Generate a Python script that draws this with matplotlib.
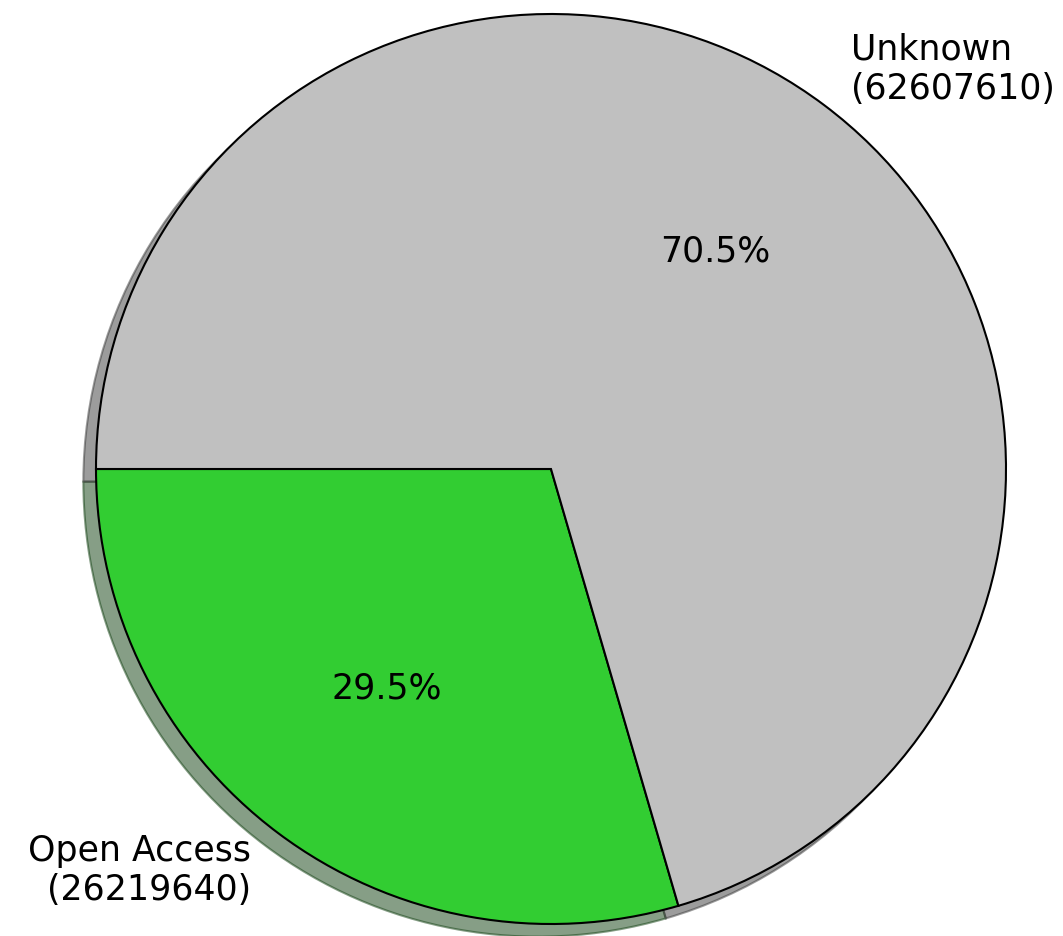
import matplotlib
matplotlib.use('Agg')
import matplotlib.pyplot as plt

categories = ['Open Access', 'Unknown']
counts = [26219640, 62607610]
colors = ['limegreen', 'silver']

labels = [f'{c}\n({n})' for c, n in zip(categories, counts)]

fig = plt.figure(figsize=(10.63, 9.37), dpi=100)
ax = fig.add_axes([0, 0, 1, 1])
ax.pie(counts, labels=labels, colors=colors, autopct='%1.1f%%',
       startangle=180, shadow=True,
       wedgeprops={'edgecolor': 'black', 'linewidth': 1.5},
       textprops={'fontsize': 25})

# place the pie like in the reference (centre ~ (551,470) px, radius ~455 px)
r = 455.0
ax.set_xlim(-551 / r, (1063 - 551) / r)
ax.set_ylim(-(937 - 470) / r, 470 / r)
ax.set_aspect('equal')
ax.axis('off')

fig.savefig('out.png', dpi=100)
